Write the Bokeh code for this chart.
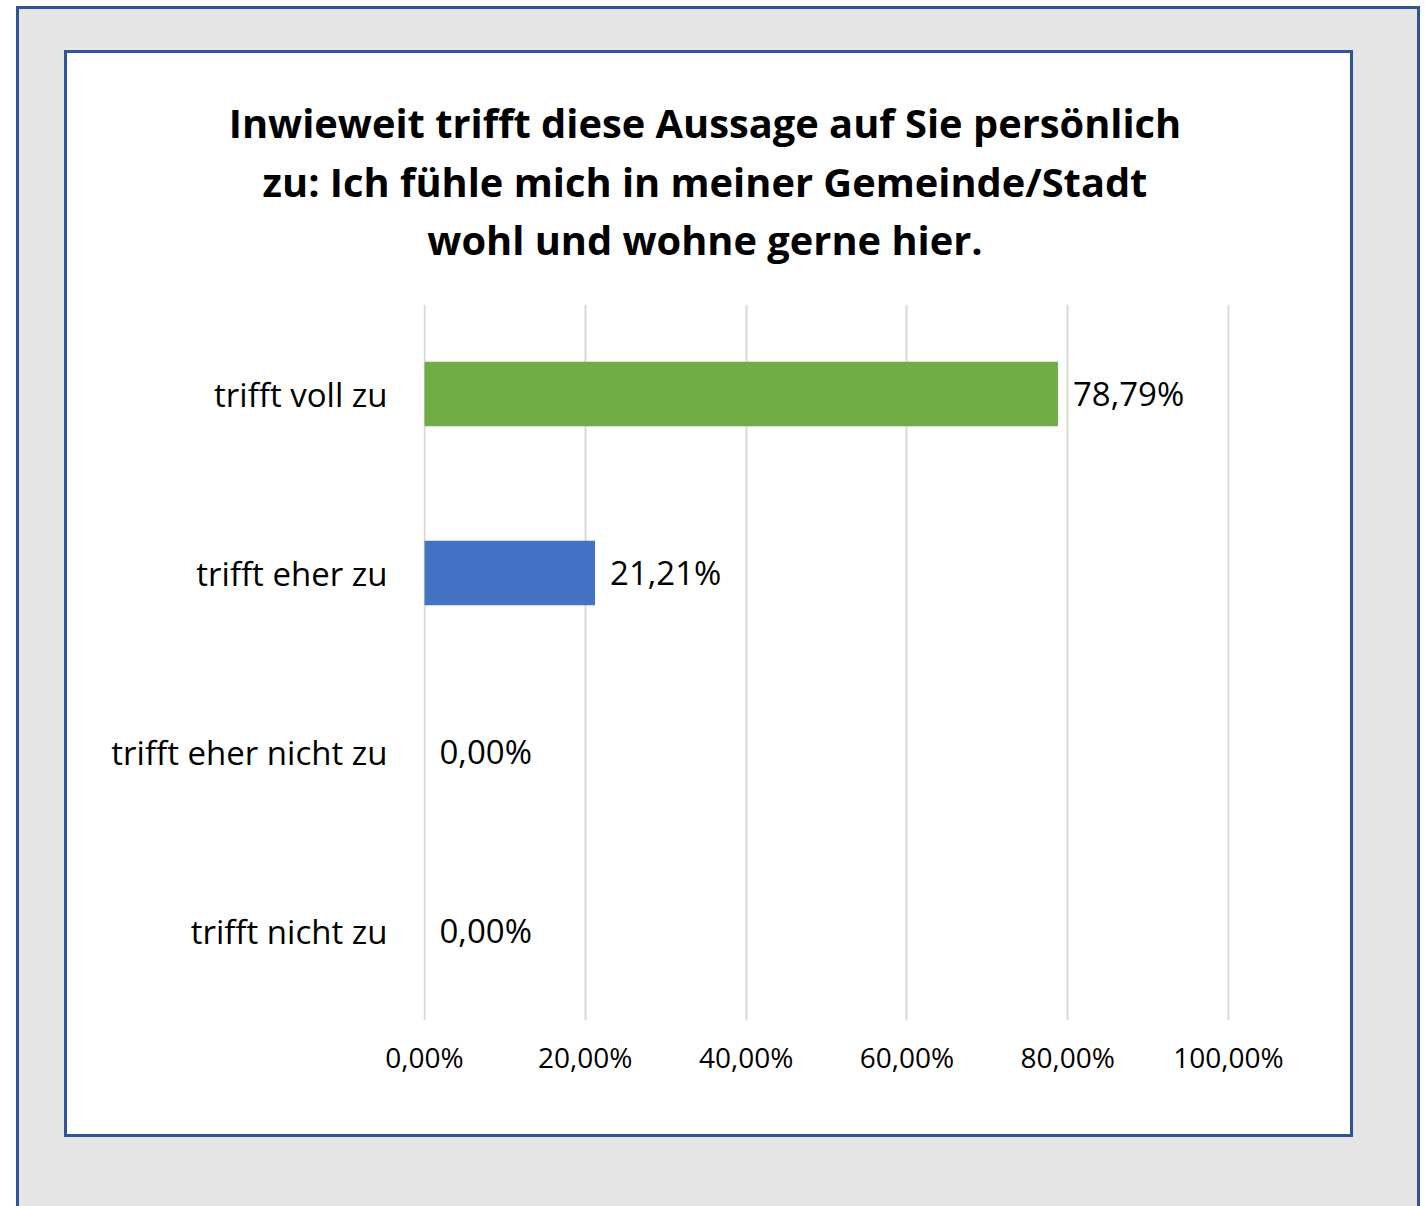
from bokeh.plotting import figure
from bokeh.models import FactorRange, Range1d, FixedTicker, ColumnDataSource, Div
from bokeh.layouts import column
from bokeh.core.properties import value
from bokeh.embed import file_html
from bokeh.resources import INLINE

categories = ["trifft voll zu", "trifft eher zu", "trifft eher nicht zu", "trifft nicht zu"]
values = [78.79, 21.21, 0.00, 0.00]
colors = ["#70ad47", "#4472c4", "#a5a5a5", "#ffc000"]
value_labels = ["78,79%", "21,21%", "0,00%", "0,00%"]
x_ticks = [0, 20, 40, 60, 80, 100]
x_tick_labels = ["0,00%", "20,00%", "40,00%", "60,00%", "80,00%", "100,00%"]
title_lines = ["Inwieweit trifft diese Aussage auf Sie persönlich",
               "zu: Ich fühle mich in meiner Gemeinde/Stadt",
               "wohl und wohne gerne hier."]

FONT = "Open Sans"
BLUE_BORDER = "#2f5597"
CW = 1283           # inner white area width
TH = 227            # title block height
FH = 854            # figure height

title_div = Div(
    text=('<div style="width:1276px;font-family:\'Open Sans\';font-weight:bold;font-size:39.8px;'
          'line-height:58.5px;text-align:center;padding-top:41px;color:#000;">'
          + "<br>".join(title_lines) + "</div>"),
    width=CW, height=TH, margin=(0, 0, 0, 0))

p = figure(width=CW, height=FH, output_backend="svg", toolbar_location=None,
           y_range=FactorRange(factors=list(reversed(categories))),
           x_range=Range1d(-0.125, 100.125),
           min_border_left=356, min_border_right=121,
           min_border_top=24, min_border_bottom=114, margin=(0, 0, 0, 0))
p.border_fill_color = "white"
p.background_fill_color = "white"
p.outline_line_color = None

src = ColumnDataSource(dict(cat=categories, val=values, color=colors, lab=value_labels))
p.hbar(y="cat", right="val", left=0, height=0.36, fill_color="color", line_color=None, source=src)
p.text(x="val", y="cat", text="lab", source=src, x_offset=15, y_offset=-1, text_baseline="middle",
       text_align="left", text_font=value(FONT), text_font_size="33px", text_color="#000000")

p.xaxis.ticker = FixedTicker(ticks=x_ticks)
p.xaxis.major_label_overrides = {t: l for t, l in zip(x_ticks, x_tick_labels)}
p.xaxis.axis_line_color = None
p.xaxis.major_tick_line_color = None
p.xaxis.minor_tick_line_color = None
p.xaxis.major_label_text_font = FONT
p.xaxis.major_label_text_font_size = "28px"
p.xaxis.major_label_text_color = "#000000"
p.xaxis.major_label_standoff = 11

p.yaxis.axis_line_color = None
p.yaxis.major_tick_line_color = None
p.yaxis.major_label_text_font = FONT
p.yaxis.major_label_text_font_size = "33px"
p.yaxis.major_label_text_color = "#000000"
p.yaxis.major_label_standoff = 30

p.xgrid.grid_line_color = "#d9d9d9"
p.xgrid.grid_line_width = 2
p.ygrid.grid_line_color = None

inner = column(title_div, p,
               styles={"border": f"3px solid {BLUE_BORDER}", "background-color": "white"})
outer = column(inner,
               styles={"background-color": "#e6e6e6",
                       "border": f"3px solid {BLUE_BORDER}", "border-bottom": "none",
                       "padding": "41px 64px 69px 45px",
                       "margin": "6px 0px 0px 16px"})

open("out.html", "w").write(file_html(outer, INLINE))
